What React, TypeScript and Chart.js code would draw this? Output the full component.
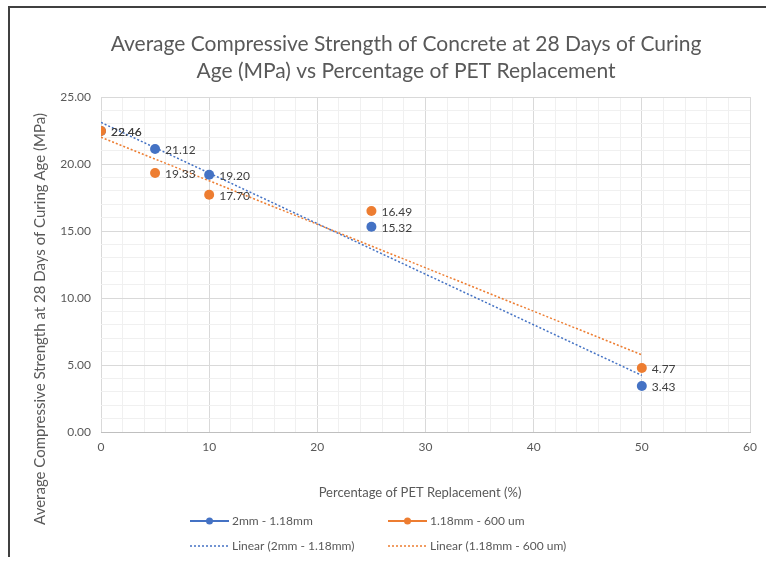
import React, { useEffect, useRef } from "react";
import { Chart, registerables } from "chart.js";

Chart.register(...registerables);

const replacement = [0, 5, 10, 25, 50];
const series2mm = [22.46, 21.12, 19.2, 15.32, 3.43];
const series118 = [22.46, 19.33, 17.7, 16.49, 4.77];
const titleLines = [
  "Average Compressive Strength of Concrete at 28 Days of Curing",
  "Age (MPa) vs Percentage of PET Replacement",
];
const xTitle = "Percentage of PET Replacement (%)";
const yTitle = "Average Compressive Strength at 28 Days of Curing Age (MPa)";
const seriesNames = ["2mm - 1.18mm", "1.18mm - 600 um"];
const trendNames = ["Linear (2mm - 1.18mm)", "Linear (1.18mm - 600 um)"];

const BLUE = "#4472C4";
const ORANGE = "#ED7D31";
const FONT = "Lato, 'Open Sans', sans-serif";
const GRAY = "#595959";

function fit(xs: number[], ys: number[]) {
  const n = xs.length;
  const mx = xs.reduce((a, b) => a + b, 0) / n;
  const my = ys.reduce((a, b) => a + b, 0) / n;
  let sxx = 0, sxy = 0;
  for (let i = 0; i < n; i++) {
    sxx += (xs[i] - mx) ** 2;
    sxy += (xs[i] - mx) * (ys[i] - my);
  }
  const m = sxy / sxx;
  const b = my - m * mx;
  const x0 = Math.min(...xs), x1 = Math.max(...xs);
  return [{ x: x0, y: b + m * x0 }, { x: x1, y: b + m * x1 }];
}

const decorPlugin = {
  id: "decor",
  afterDatasetsDraw(chart: any) {
    const ctx = chart.ctx;
    ctx.save();
    ctx.font = `12px ${FONT}`;
    ctx.fillStyle = "#404040";
    ctx.textAlign = "left";
    ctx.textBaseline = "middle";
    [0, 1].forEach((di) => {
      const meta = chart.getDatasetMeta(di);
      const ds = chart.data.datasets[di];
      meta.data.forEach((pt: any, i: number) => {
        ctx.fillText(ds.data[i].y.toFixed(2), pt.x + 10, pt.y + 1);
      });
    });
    ctx.restore();
  },
  afterDraw(chart: any) {
    const ctx = chart.ctx;
    ctx.save();
    ctx.fillStyle = GRAY;
    ctx.font = `21px ${FONT}`;
    ctx.textAlign = "center";
    ctx.textBaseline = "middle";
    ctx.fillText(titleLines[0], 396, 36);
    ctx.fillText(titleLines[1], 396, 63);
    ctx.font = `13px ${FONT}`;
    ctx.fillText(xTitle, 410, 485);
    ctx.save();
    ctx.translate(30, 311);
    ctx.rotate(-Math.PI / 2);
    ctx.font = `15px ${FONT}`;
    ctx.fillText(yTitle, 0, 0);
    ctx.restore();
    const items = [
      { x: 180, y: 513, color: BLUE, dash: [], marker: true, label: seriesNames[0] },
      { x: 378, y: 513, color: ORANGE, dash: [], marker: true, label: seriesNames[1] },
      { x: 180, y: 538, color: BLUE, dash: [2, 2], marker: false, label: trendNames[0] },
      { x: 378, y: 538, color: ORANGE, dash: [2, 2], marker: false, label: trendNames[1] },
    ];
    items.forEach((it) => {
      ctx.strokeStyle = it.color;
      ctx.lineWidth = it.marker ? 2 : 1.5;
      ctx.setLineDash(it.dash);
      ctx.beginPath();
      ctx.moveTo(it.x, it.y);
      ctx.lineTo(it.x + 39, it.y);
      ctx.stroke();
      ctx.setLineDash([]);
      if (it.marker) {
        ctx.fillStyle = it.color;
        ctx.beginPath();
        ctx.arc(it.x + 19.5, it.y, 3.5, 0, Math.PI * 2);
        ctx.fill();
      }
      ctx.fillStyle = GRAY;
      ctx.font = `12px ${FONT}`;
      ctx.textAlign = "left";
      ctx.fillText(it.label, it.x + 42, it.y);
    });
    ctx.restore();
  },
};

export default function App() {
  const ref = useRef<HTMLCanvasElement>(null);
  useEffect(() => {
    if (!ref.current) return;
    const pts = (ys: number[]) => replacement.map((x, i) => ({ x, y: ys[i] }));
    const chart = new Chart(ref.current, {
      type: "scatter",
      data: {
        datasets: [
          {
            label: seriesNames[0],
            data: pts(series2mm),
            backgroundColor: BLUE,
            borderColor: BLUE,
            pointRadius: 5,
            pointBorderWidth: 0,
            showLine: false,
            order: 1,
          },
          {
            label: seriesNames[1],
            data: pts(series118),
            backgroundColor: ORANGE,
            borderColor: ORANGE,
            pointRadius: 5,
            pointBorderWidth: 0,
            showLine: false,
            order: 0,
          },
          {
            label: trendNames[0],
            data: fit(replacement, series2mm),
            borderColor: BLUE,
            borderWidth: 1.5,
            borderDash: [2, 2],
            pointRadius: 0,
            showLine: true,
            order: 3,
          },
          {
            label: trendNames[1],
            data: fit(replacement, series118),
            borderColor: ORANGE,
            borderWidth: 1.5,
            borderDash: [2, 2],
            pointRadius: 0,
            showLine: true,
            order: 2,
          },
        ],
      },
      options: {
        animation: false,
        responsive: false,
        maintainAspectRatio: false,
        layout: { padding: { top: 89, right: 16, bottom: 95, left: 0 } },
        plugins: {
          legend: { display: false },
          title: { display: false },
          tooltip: { enabled: false },
        },
        scales: {
          x: {
            type: "linear",
            min: 0,
            max: 60,
            ticks: {
              stepSize: 2,
              autoSkip: false,
              maxRotation: 0,
              padding: 8,
              color: GRAY,
              font: { family: FONT, size: 12 },
              callback: (v: any) => (v % 10 === 0 ? String(v) : ""),
            },
            grid: {
              drawTicks: false,
              color: (c: any) => (c.tick && c.tick.value % 10 === 0 ? "#d9d9d9" : "#f0f0f0"),
            },
            border: { color: "#bfbfbf" },
            afterFit: (s: any) => {
              s.height = 30;
            },
          },
          y: {
            min: 0,
            max: 25,
            ticks: {
              stepSize: 1,
              autoSkip: false,
              padding: 10,
              color: GRAY,
              font: { family: FONT, size: 12 },
              callback: (v: any) => (v % 5 === 0 ? Number(v).toFixed(2) : ""),
            },
            grid: {
              drawTicks: false,
              color: (c: any) => (c.tick && c.tick.value % 5 === 0 ? "#d9d9d9" : "#f0f0f0"),
            },
            border: { display: false },
            afterFit: (s: any) => {
              s.width = 91;
            },
          },
        },
      },
      plugins: [decorPlugin],
    });
    return () => chart.destroy();
  }, []);
  return (
    <div
      style={{
        position: "absolute",
        left: 8,
        top: 6,
        width: 756,
        height: 549,
        borderTop: "2px solid #404040",
        borderLeft: "2px solid #404040",
        background: "#fff",
      }}
    >
      <canvas ref={ref} width={756} height={549} style={{ display: "block" }} />
    </div>
  );
}
